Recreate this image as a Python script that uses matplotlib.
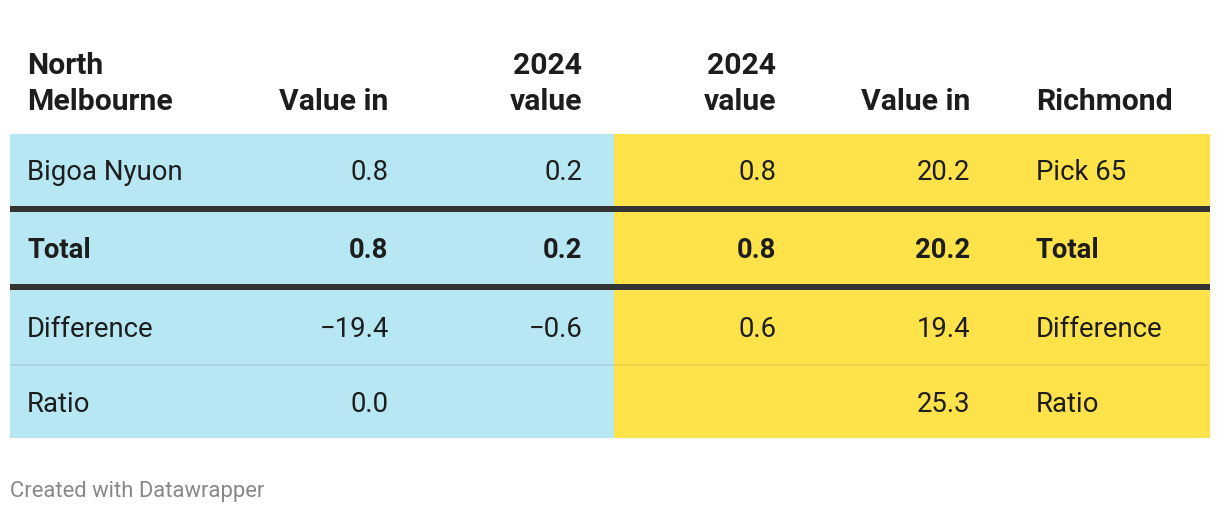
import matplotlib
matplotlib.use("Agg")
import matplotlib.pyplot as plt
from matplotlib.patches import Rectangle

# ---- data ----
header_labels = ["North\nMelbourne", "Value in", "2024\nvalue", "2024\nvalue", "Value in", "Richmond"]
left_players = ["Bigoa Nyuon"]
right_players = ["Pick 65"]
left_value_in = [0.8]
left_2024_value = [0.2]
right_2024_value = [0.8]
right_value_in = [20.2]
total_values = [0.8, 0.2, 0.8, 20.2]
difference_values = [-19.4, -0.6, 0.6, 19.4]
ratio_values = [0.0, None, None, 25.3]
row_labels_left = ["Total", "Difference", "Ratio"]
row_labels_right = ["Total", "Difference", "Ratio"]
footer_text = "Created with Datawrapper"

# ---- style ----
W, H = 1220, 514
BLUE = "#b7e7f3"
YELLOW = "#fee24a"
DARK = "#333333"
TXT = "#1d1d1d"
FONT = "Roboto"
FS = 19.8
FS_HEAD = 21.7
FS_FOOT = 15.8

fig = plt.figure(figsize=(W / 100, H / 100), dpi=100)
ax = fig.add_axes([0, 0, 1, 1])
ax.set_xlim(0, W)
ax.set_ylim(H, 0)
ax.axis("off")

def fmt(v):
    if v is None:
        return ""
    s = f"{abs(v):.1f}"
    return ("\u2212" + s) if v < 0 else s

# backgrounds
top, bottom = 134, 437.5
mid = 613.5
ax.add_patch(Rectangle((10, top), mid - 10, bottom - top, color=BLUE, lw=0, zorder=0))
ax.add_patch(Rectangle((mid, top), 1210 - mid, bottom - top, color=YELLOW, lw=0, zorder=0))

# separators
for y0 in (206, 284):
    ax.add_patch(Rectangle((10, y0), 1200, 6, color=DARK, lw=0, zorder=2))
ax.add_patch(Rectangle((10, 364), 1200, 1.6, color="black", alpha=0.07, lw=0, zorder=2))

# column anchors (x, alignment)
cols = [(27, "left"), (388.5, "right"), (582.5, "right"), (776.5, "right"), (970.5, "right"), (1036, "left")]

# header
for (x, ha), lab in zip(cols, header_labels):
    lines = lab.split("\n")
    baselines = [110] if len(lines) == 1 else [74, 110]
    for ln, yb in zip(lines, baselines):
        ax.text(x, yb, ln, ha=ha, va="baseline", fontsize=FS_HEAD, fontweight="bold",
                family=FONT, color=TXT)

# player rows
row_y = 179.5
for i in range(len(left_players)):
    vals = [left_players[i], fmt(left_value_in[i]), fmt(left_2024_value[i]),
            fmt(right_2024_value[i]), fmt(right_value_in[i]), right_players[i]]
    for (x, ha), v in zip(cols, vals):
        ax.text(x, row_y + i * 75, v, ha=ha, va="baseline", fontsize=FS, family=FONT, color=TXT)

# summary rows
summary = [total_values, difference_values, ratio_values]
sum_y = [258.3, 337.3, 411.7]
for j, (vals, yb) in enumerate(zip(summary, sum_y)):
    weight = "bold" if j == 0 else "normal"
    texts = [row_labels_left[j]] + [fmt(v) for v in vals] + [row_labels_right[j]]
    for (x, ha), t in zip(cols, texts):
        ax.text(x, yb, t, ha=ha, va="baseline", fontsize=FS, fontweight=weight,
                family=FONT, color=TXT)

# footer
ax.text(10, 497, footer_text, ha="left", va="baseline", fontsize=FS_FOOT, family=FONT, color="#888888")

fig.savefig("out.png", dpi=100, facecolor="white")
